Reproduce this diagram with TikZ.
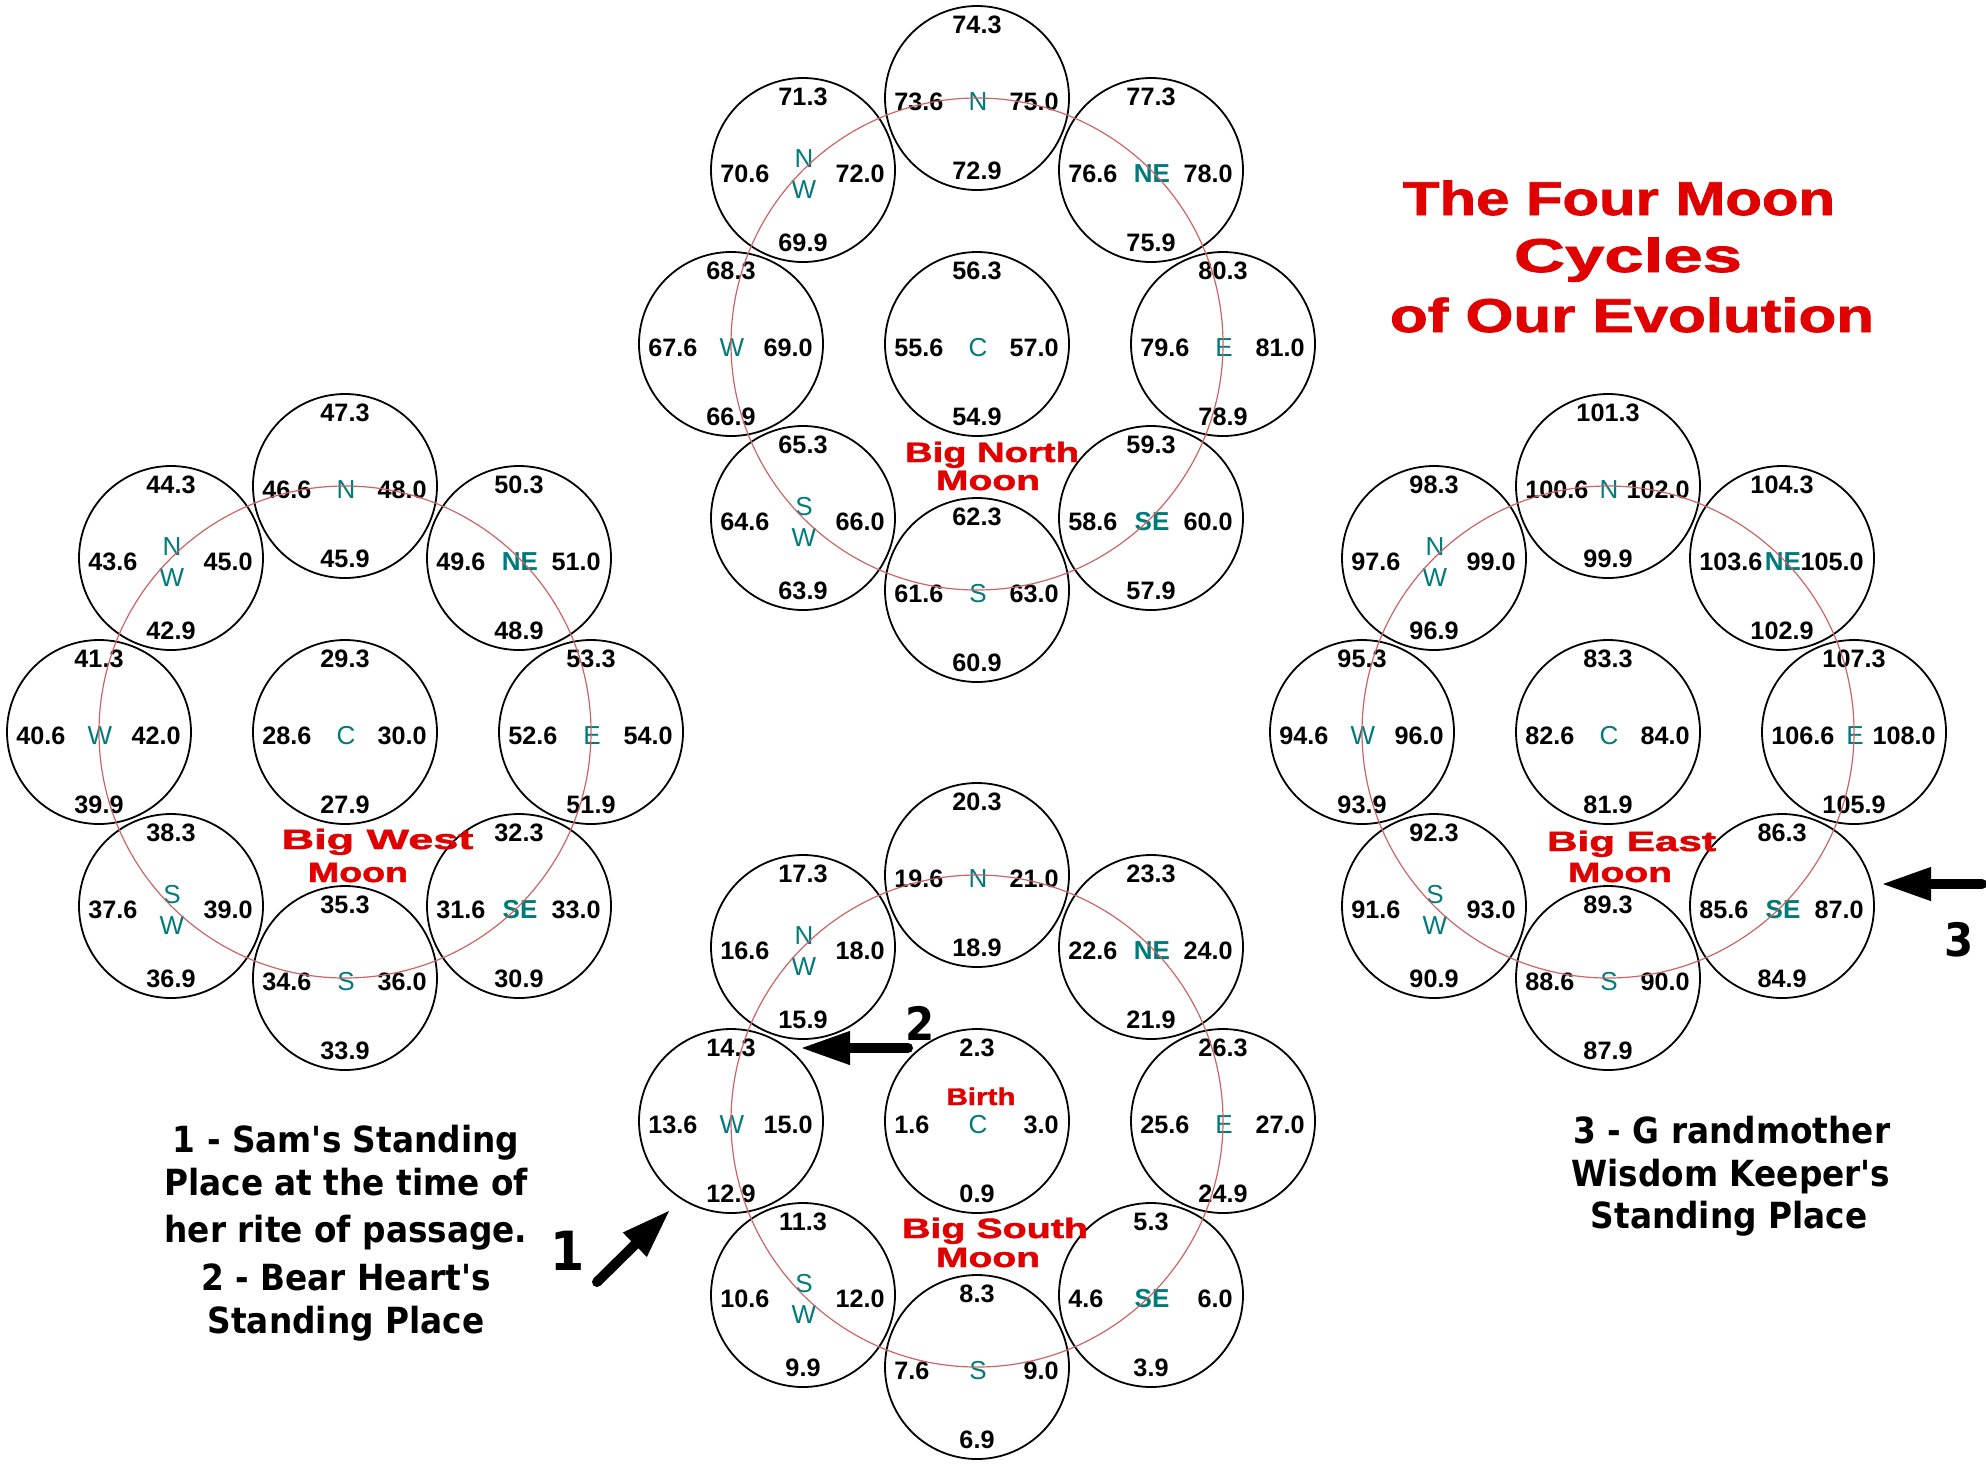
\documentclass[tikz,border=0pt]{standalone}
\usepackage{fontspec}
\usepackage{graphicx}
\setmainfont{Liberation Sans}
\newfontfamily\notefont{DejaVu Sans}[FakeStretch=0.91]
\newfontfamily\redfont{Liberation Sans}[FakeBold=1.5]
\usetikzlibrary{calc,arrows.meta}
\definecolor{dirteal}{RGB}{0,122,122}
\definecolor{moonred}{RGB}{225,0,0}
\definecolor{ringred}{RGB}{205,100,100}
\newcommand\fitw[2]{\resizebox{#1}{\height}{#2}}
\newcommand\cell[8]{%
  \node[ring] (#1) at (#2,#3) {};
  \node[num] (#1-t) at ($(#1)+(0,-73)$) {#4};
  \node[num,anchor=west] (#1-l) at ($(#1)+(-83,4)$) {#5};
  \node[num,anchor=east] (#1-r) at ($(#1)+(82,4)$) {#6};
  \node[num] (#1-b) at ($(#1)+(0,73)$) {#7};
  \node[dirlab] (#1-d) at ($(#1)+(1,4)$) {#8};
}
\begin{document}
\begin{tikzpicture}[x=0.5pt,y=-0.5pt,
  ring/.style={circle,draw=black,line width=0.9pt,minimum size=92pt,inner sep=0pt},
  num/.style={inner sep=0pt,font=\fontsize{12.6}{14}\selectfont\bfseries},
  dirlab/.style={inner sep=0pt,text=dirteal,align=center,font=\fontsize{13}{15.5}\selectfont},
  redring/.style={draw=ringred,line width=0.6pt},
  moonlab/.style={anchor=base,inner sep=0pt,text=moonred,font=\redfont\fontsize{14}{16}\selectfont\bfseries},
  titlelab/.style={anchor=base,inner sep=0pt,text=moonred,font=\redfont\fontsize{23.75}{28}\selectfont\bfseries},
  note/.style={anchor=base,inner sep=0pt,font=\notefont\fontsize{18}{22}\selectfont\bfseries},
  digitlab/.style={anchor=base,inner sep=0pt,font=\notefont\fontsize{23}{27}\selectfont\bfseries},
  bigarrow/.style={line width=5pt,line cap=round,-{Triangle[length=24pt,width=17pt,line width=0.5pt]}},
]
\path[use as bounding box] (0,0) rectangle (1986,1463);

% ---- Big North Moon
\cell{nN}{977}{98}{74.3}{73.6}{75.0}{72.9}{N}
\cell{nNE}{1151}{170}{77.3}{76.6}{78.0}{75.9}{\bfseries NE}
\cell{nE}{1223}{344}{80.3}{79.6}{81.0}{78.9}{E}
\cell{nSE}{1151}{518}{59.3}{58.6}{60.0}{57.9}{\bfseries SE}
\cell{nS}{977}{590}{62.3}{61.6}{63.0}{60.9}{S}
\cell{nSW}{803}{518}{65.3}{64.6}{66.0}{63.9}{S\\W}
\cell{nW}{731}{344}{68.3}{67.6}{69.0}{66.9}{W}
\cell{nNW}{803}{170}{71.3}{70.6}{72.0}{69.9}{N\\W}
\cell{nC}{977}{344}{56.3}{55.6}{57.0}{54.9}{C}
\draw[redring] (nC) circle[radius=123pt];
\node[moonlab] (nL1) at (992,462) {\fitw{87pt}{Big North}};
\node[moonlab] (nL2) at (988,490) {\fitw{52pt}{Moon}};

% ---- Big West Moon
\cell{wN}{345}{486}{47.3}{46.6}{48.0}{45.9}{N}
\cell{wNE}{519}{558}{50.3}{49.6}{51.0}{48.9}{\bfseries NE}
\cell{wE}{591}{732}{53.3}{52.6}{54.0}{51.9}{E}
\cell{wSE}{519}{906}{32.3}{31.6}{33.0}{30.9}{\bfseries SE}
\cell{wS}{345}{978}{35.3}{34.6}{36.0}{33.9}{S}
\cell{wSW}{171}{906}{38.3}{37.6}{39.0}{36.9}{S\\W}
\cell{wW}{99}{732}{41.3}{40.6}{42.0}{39.9}{W}
\cell{wNW}{171}{558}{44.3}{43.6}{45.0}{42.9}{N\\W}
\cell{wC}{345}{732}{29.3}{28.6}{30.0}{27.9}{C}
\draw[redring] (wC) circle[radius=123pt];
\node[moonlab] (wL1) at (377.5,849) {\fitw{95.8pt}{Big West}};
\node[moonlab] (wL2) at (358,882) {\fitw{50pt}{Moon}};

% ---- Big South Moon
\cell{sN}{977}{875}{20.3}{19.6}{21.0}{18.9}{N}
\cell{sNE}{1151}{947}{23.3}{22.6}{24.0}{21.9}{\bfseries NE}
\cell{sE}{1223}{1121}{26.3}{25.6}{27.0}{24.9}{E}
\cell{sSE}{1151}{1295}{5.3}{4.6}{6.0}{3.9}{\bfseries SE}
\cell{sS}{977}{1367}{8.3}{7.6}{9.0}{6.9}{S}
\cell{sSW}{803}{1295}{11.3}{10.6}{12.0}{9.9}{S\\W}
\cell{sW}{731}{1121}{14.3}{13.6}{15.0}{12.9}{W}
\cell{sNW}{803}{947}{17.3}{16.6}{18.0}{15.9}{N\\W}
\cell{sC}{977}{1121}{2.3}{1.6}{3.0}{0.9}{C}
\draw[redring] (sC) circle[radius=123pt];
\node[moonlab,font=\redfont\fontsize{12}{14}\selectfont\bfseries] (birth) at (981,1105) {\fitw{34.5pt}{Birth}};
\node[moonlab] (sL1) at (995,1238) {\fitw{93pt}{Big South}};
\node[moonlab] (sL2) at (988,1267) {\fitw{52pt}{Moon}};

% ---- Big East Moon
\cell{eN}{1608}{486}{101.3}{100.6}{102.0}{99.9}{N}
\cell{eNE}{1782}{558}{104.3}{103.6}{105.0}{102.9}{\bfseries NE}
\cell{eE}{1854}{732}{107.3}{106.6}{108.0}{105.9}{E}
\cell{eSE}{1782}{906}{86.3}{85.6}{87.0}{84.9}{\bfseries SE}
\cell{eS}{1608}{978}{89.3}{88.6}{90.0}{87.9}{S}
\cell{eSW}{1434}{906}{92.3}{91.6}{93.0}{90.9}{S\\W}
\cell{eW}{1362}{732}{95.3}{94.6}{96.0}{93.9}{W}
\cell{eNW}{1434}{558}{98.3}{97.6}{99.0}{96.9}{N\\W}
\cell{eC}{1608}{732}{83.3}{82.6}{84.0}{81.9}{C}
\draw[redring] (eC) circle[radius=123pt];
\node[moonlab] (eL1) at (1631.5,851) {\fitw{84.5pt}{Big East}};
\node[moonlab] (eL2) at (1620,882) {\fitw{52pt}{Moon}};

% ---- Title
\node[titlelab] (t1) at (1619,215) {\fitw{216pt}{The Four Moon}};
\node[titlelab] (t2) at (1628,272) {\fitw{114pt}{Cycles}};
\node[titlelab] (t3) at (1632,332) {\fitw{242pt}{of Our Evolution}};

% ---- Notes
\node[note] (l1) at (346,1152) {1 - Sam's Standing};
\node[note] (l2) at (346,1195) {Place at the time of};
\node[note] (l3) at (346,1242) {her rite of passage.};
\node[note] (l4) at (346,1290) {2 - Bear Heart's};
\node[note] (l5) at (346,1333) {Standing Place};
\node[note] (r1) at (1732,1143) {3 - G randmother};
\node[note] (r2) at (1731,1186) {Wisdom Keeper's};
\node[note] (r3) at (1729,1228) {Standing Place};

% ---- Arrows and their numbers
\coordinate (a1s) at (597,1282); \coordinate (a1e) at (669,1211);
\coordinate (a2s) at (908,1048); \coordinate (a2e) at (802,1048);
\coordinate (a3s) at (1982,884); \coordinate (a3e) at (1883,884);
\draw[bigarrow] (a1s) -- (a1e);
\draw[bigarrow] (a2s) -- (a2e);
\draw[bigarrow] (a3s) -- (a3e);
\node[digitlab,font=\notefont\fontsize{27}{30}\selectfont\bfseries] (d1) at (568,1270) {1};
\node[digitlab] (d2) at (920,1040) {2};
\node[digitlab] (d3) at (1959,956) {3};
\end{tikzpicture}
\end{document}
